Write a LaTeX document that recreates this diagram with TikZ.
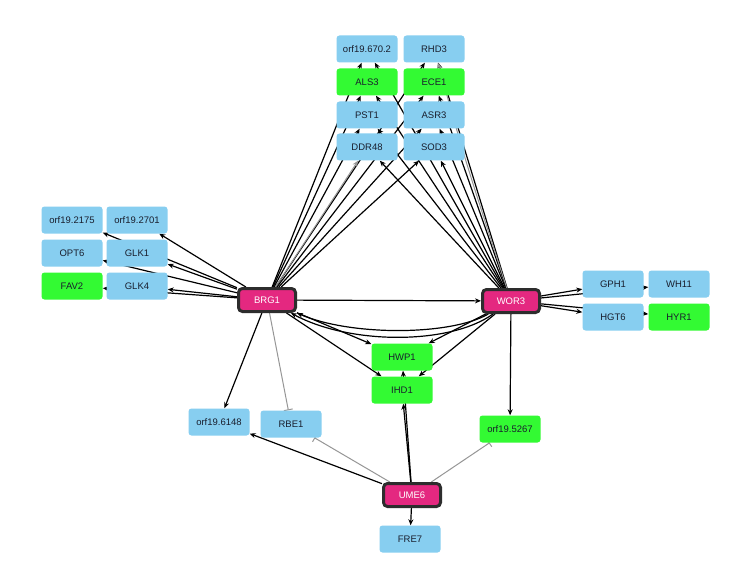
\documentclass[tikz,border=0pt]{standalone}
\usepackage{fontspec}
\setmainfont{Liberation Sans}
\usetikzlibrary{arrows.meta,backgrounds}
\definecolor{nblue}{RGB}{135,206,240}
\definecolor{ngreen}{RGB}{51,250,51}
\definecolor{nmag}{RGB}{228,40,128}
\definecolor{nborder}{RGB}{45,45,45}
\definecolor{egray}{RGB}{150,150,150}
\definecolor{ntext}{RGB}{25,30,45}
\pgfdeclarelayer{edgelayer}
\pgfsetlayers{background,edgelayer,main}
\begin{document}
\begin{tikzpicture}[x=1pt,y=-1pt,
  gene/.style={rectangle,rounded corners=3pt,minimum width=61pt,minimum height=27pt,inner sep=0pt,font=\fontsize{9.5}{11}\selectfont,text=ntext},
  bgene/.style={gene,fill=nblue},
  ggene/.style={gene,fill=ngreen},
  tf/.style={rectangle,rounded corners=4pt,minimum width=57pt,minimum height=23pt,inner sep=0pt,fill=nmag,draw=nborder,line width=3pt,text=white,font=\fontsize{9.5}{11}\selectfont},
  act/.style={draw=black,line width=1.2pt,-{Stealth[length=6pt,width=5pt]}},
  gact/.style={draw=egray,line width=1pt,-{Stealth[length=6pt,width=5pt]}},
  inh/.style={draw=egray,line width=1pt,-{Bar[width=9pt]}}
]
\begin{pgfonlayer}{background}
\fill[white] (0,0) rectangle (750,583);
\end{pgfonlayer}
\useasboundingbox (0,0) rectangle (750,583);

% top cluster
\node[bgene] (o670) at (367,49) {orf19.670.2};
\node[bgene] (RHD3) at (434,49) {RHD3};
\node[ggene] (ALS3) at (367,82) {ALS3};
\node[ggene] (ECE1) at (434,82) {ECE1};
\node[bgene] (PST1) at (367,115) {PST1};
\node[bgene] (ASR3) at (434,115) {ASR3};
\node[bgene] (DDR48) at (367,147) {DDR48};
\node[bgene] (SOD3) at (434,147) {SOD3};
% left cluster
\node[bgene] (o2175) at (72,220) {orf19.2175};
\node[bgene] (o2701) at (137,220) {orf19.2701};
\node[bgene] (OPT6) at (72,253) {OPT6};
\node[bgene] (GLK1) at (137,253) {GLK1};
\node[ggene] (FAV2) at (72,286) {FAV2};
\node[bgene] (GLK4) at (137,286) {GLK4};
% regulators
\node[tf] (BRG1) at (267,300) {BRG1};
\node[tf] (WOR3) at (511,301) {WOR3};
\node[tf] (UME6) at (412,495) {UME6};
% right cluster
\node[bgene] (GPH1) at (613,284) {GPH1};
\node[bgene] (WH11) at (679,284) {WH11};
\node[bgene] (HGT6) at (613,317) {HGT6};
\node[ggene] (HYR1) at (679,317) {HYR1};
% middle / bottom
\node[ggene] (HWP1) at (402,357) {HWP1};
\node[ggene] (IHD1) at (402,390) {IHD1};
\node[bgene] (o6148) at (219,422) {orf19.6148};
\node[bgene] (RBE1) at (291,424) {RBE1};
\node[ggene] (o5267) at (510,429) {orf19.5267};
\node[bgene] (FRE7) at (410,539) {FRE7};

\begin{pgfonlayer}{edgelayer}
% BRG1 targets
\foreach \t in {o2175,o2701,OPT6,GLK1,FAV2,GLK4,WOR3,HWP1,IHD1,o6148,o670,ALS3,PST1,RHD3,ECE1,ASR3,SOD3}
  \draw[act] (BRG1) -- (\t);
\draw[gact] (BRG1) -- (DDR48);
\draw[inh] (BRG1) -- (RBE1);
% WOR3 targets
\foreach \t in {GPH1,WH11,HGT6,HYR1,HWP1,IHD1,o5267,o670,ALS3,PST1,DDR48,RHD3,ECE1,ASR3,SOD3}
  \draw[act] (WOR3) -- (\t);
\draw[gact] (WOR3) .. controls (465,160) .. (RHD3);
\draw[act] (WOR3) .. controls (450,345) and (350,345) .. (BRG1);
\draw[act] (WOR3) .. controls (450,336) and (350,336) .. (BRG1);
% UME6 targets
\foreach \t in {IHD1,HWP1,o6148,FRE7}
  \draw[act] (UME6) -- (\t);
\draw[inh] (UME6) -- (RBE1);
\draw[inh] (UME6) -- (o5267);
\end{pgfonlayer}
\end{tikzpicture}
\end{document}
